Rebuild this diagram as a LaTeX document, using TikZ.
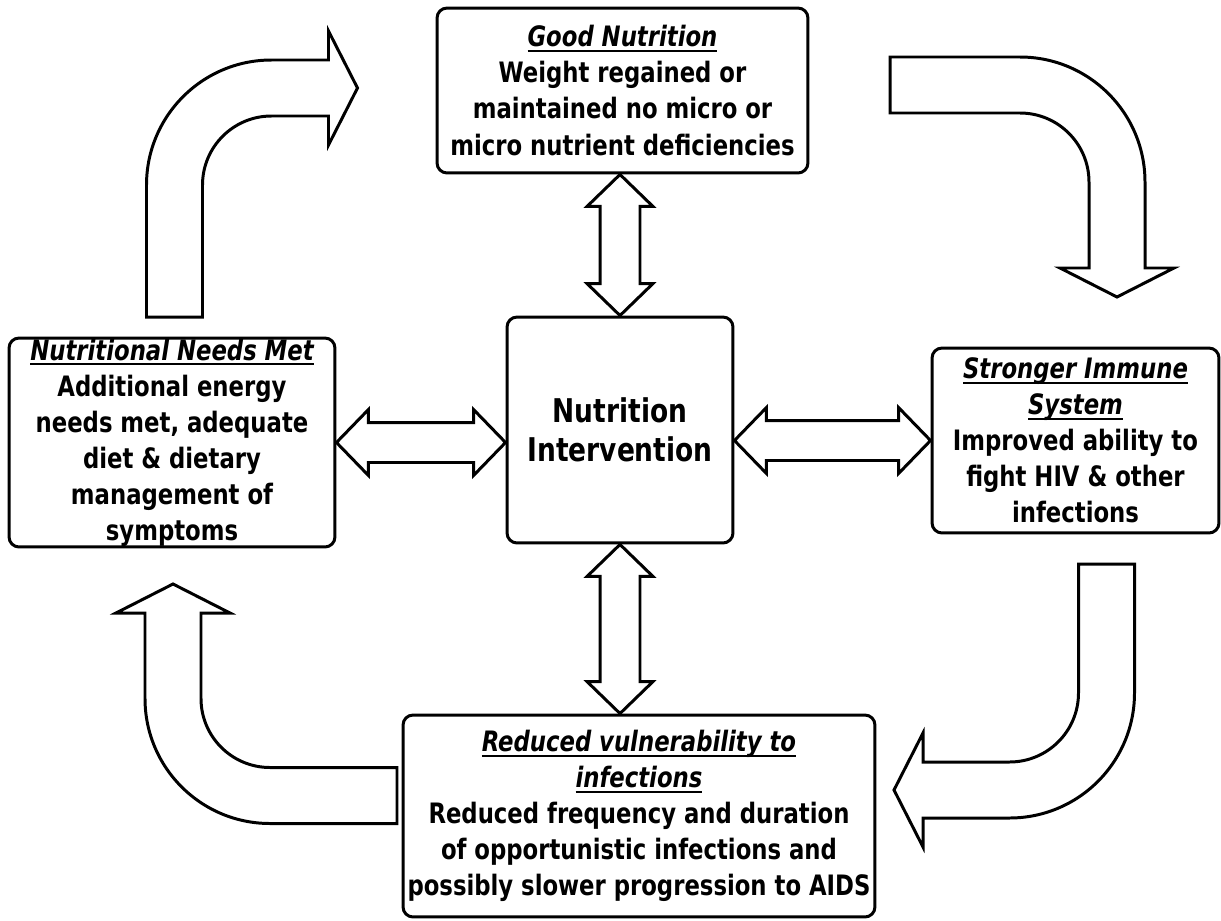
\documentclass[tikz,border=0pt]{standalone}
\usepackage{fontspec}
\setmainfont{DejaVu Sans Condensed}[FakeStretch=0.9]
\usetikzlibrary{calc}

% underlined italic heading with a fixed rule depth
\newcommand{\hd}[1]{\setbox0\hbox{\itshape #1}\rlap{\rule[-3pt]{\wd0}{1.1pt}}\box0}

% bent block arrow: shaft up from the origin, then turning right
\newcommand{\bentarrow}[2]{%
  \draw[blockline] (-28,0) -- (-28,#1) arc[start angle=180, end angle=90, radius=125]
    -- ++(#2,0) -- ++(0,29) -- ++(29,-57) -- ++(-29,-57) -- ++(0,29)
    -- ++(-#2,0) arc[start angle=90, end angle=180, radius=69] -- (28,0) -- cycle;}

% straight block arrow with a head at both ends
\newcommand{\twoway}[2]{%
  \draw[blockline] (#1)
    -- ($(#1)!0.64cm!(#2)!0.66cm!90:(#2)$)
    -- ($(#1)!0.64cm!(#2)!0.4cm!90:(#2)$)
    -- ($(#2)!0.64cm!(#1)!0.4cm!-90:(#1)$)
    -- ($(#2)!0.64cm!(#1)!0.66cm!-90:(#1)$)
    -- (#2)
    -- ($(#2)!0.64cm!(#1)!0.66cm!90:(#1)$)
    -- ($(#2)!0.64cm!(#1)!0.4cm!90:(#1)$)
    -- ($(#1)!0.64cm!(#2)!0.4cm!-90:(#2)$)
    -- ($(#1)!0.64cm!(#2)!0.66cm!-90:(#2)$)
    -- cycle;}

\begin{document}
\begin{tikzpicture}[x=0.02cm, y=0.02cm,
box/.style={draw, line width=1.7pt, rounded corners=0.2cm, align=center, inner sep=0pt,
  font=\bfseries\fontsize{16}{20.5}\selectfont},
blockline/.style={draw, line width=1.7pt, line join=miter, fill=white}
]
\useasboundingbox (0,0) rectangle (1221,-920);

\node[box, minimum width=7.42cm, minimum height=3.3cm] (good) at (622.5,-90.5)
  {\hd{Good Nutrition}\\Weight regained or\\maintained no micro or\\micro nutrient deficiencies};
\node[box, minimum width=4.52cm, minimum height=4.52cm, font=\bfseries\fontsize{18.6}{22.5}\selectfont] (core) at (620,-430)
  {Nutrition\\Intervention};
\node[box, minimum width=6.52cm, minimum height=4.18cm] (needs) at (172,-442.5)
  {\hd{Nutritional Needs Met}\\Additional energy\\needs met, adequate\\diet \& dietary\\management of\\symptoms};
\node[box, minimum width=5.74cm, minimum height=3.7cm] (immune) at (1075.5,-440.5)
  {\hd{Stronger Immune}\\\hd{System}\\Improved ability to\\fight HIV \& other\\infections};
\node[box, minimum width=9.44cm, minimum height=4.04cm] (reduced) at (639,-816)
  {\hd{Reduced vulnerability to}\\\hd{infections}\\Reduced frequency and duration\\of opportunistic infections and\\possibly slower progression to AIDS};

% two-way links to the centre
\coordinate (a1) at (core.north |- good.south);
\coordinate (a2) at (needs.east -| core.west);
\coordinate (a3) at (immune.west -| core.east);
\coordinate (a4) at (core.south |- reduced.north);
\twoway{a1}{core.north}
\twoway{needs.east}{a2}
\twoway{a3}{immune.west}
\twoway{core.south}{a4}

% the cycle round the outside
\begin{scope}[shift={(174.5,-317)}]
  \bentarrow{132}{57}
\end{scope}
\begin{scope}[shift={(890,-85)}, rotate=-90]
  \bentarrow{130}{86}
\end{scope}
\begin{scope}[shift={(1106.5,-564)}, rotate=180]
  \bentarrow{129}{86.5}
\end{scope}
\begin{scope}[shift={(397,-795.5)}, rotate=90]
  \bentarrow{127}{85.5}
\end{scope}
\end{tikzpicture}
\end{document}
